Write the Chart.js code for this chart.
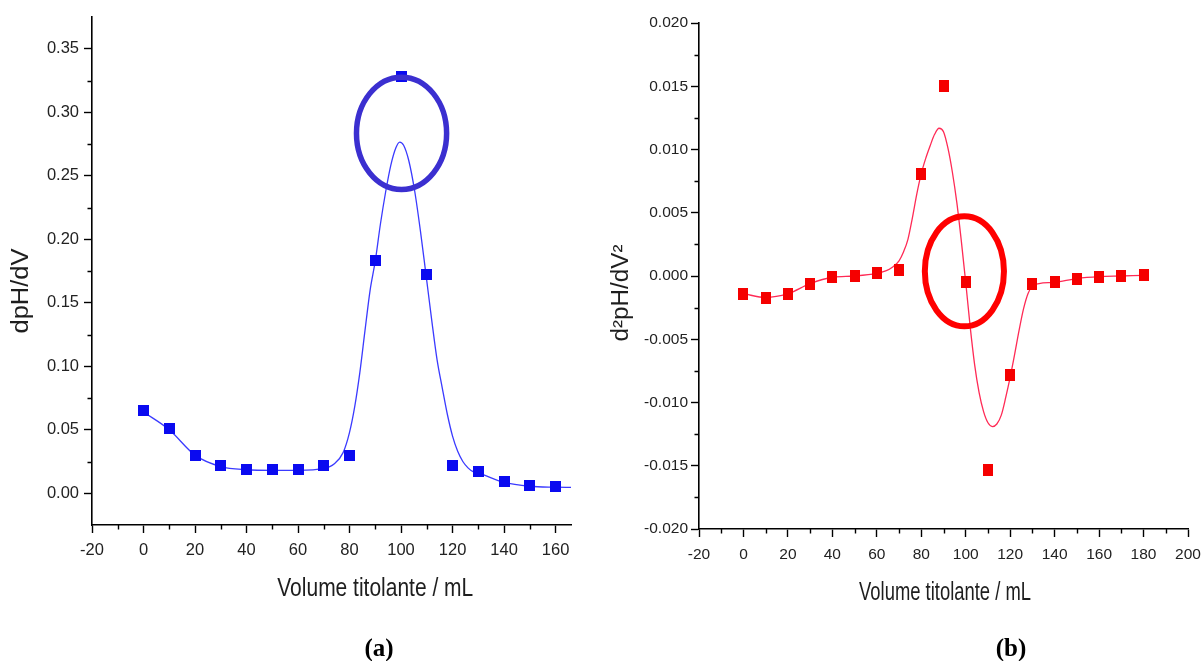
<!DOCTYPE html>
<html>
<head>
<meta charset="utf-8">
<script src="https://cdn.jsdelivr.net/npm/chart.js@4.4.1/dist/chart.umd.min.js"></script>
<style>
  body { margin: 0; background: #fff; width: 1203px; height: 661px; position: relative; overflow: hidden; }
  canvas { position: absolute; top: 0; }
  #chartA { left: 0; }
  #chartB { left: 600px; }
  .cap { position: absolute; transform: translate(-50%, -50%); font: bold 25px "Liberation Serif", "Times New Roman", serif; color: #000; }
</style>
</head>
<body>
<canvas id="chartA" width="600" height="661"></canvas>
<canvas id="chartB" width="603" height="661"></canvas>
<div class="cap" style="left:379px; top:648px">(a)</div>
<div class="cap" style="left:1011px; top:648px">(b)</div>
<script>
  // (a) primeira derivada
  const volA     = [0, 10, 20, 30, 40, 50, 60, 70, 80, 90, 100, 110, 120, 130, 140, 150, 160];
  const dpHdV    = [0.065, 0.051, 0.030, 0.022, 0.019, 0.019, 0.019, 0.022, 0.030, 0.183, 0.328, 0.172, 0.022, 0.017, 0.009, 0.006, 0.0055];
  const fitVolA  = [0, 10, 20, 30, 40, 50, 60, 70, 74, 77.5, 80, 82, 84, 86, 88, 90, 92, 94, 96, 98, 99.5, 101, 103, 105.3, 107.5, 109.7, 112, 114, 116, 118, 120, 122, 124, 126, 128, 130, 140, 150, 160, 166];
  const fitDpHdV = [0.064, 0.050, 0.030, 0.021, 0.0185, 0.018, 0.018, 0.0195, 0.023, 0.032, 0.048, 0.068, 0.095, 0.128, 0.160, 0.183, 0.212, 0.237, 0.258, 0.272, 0.2765, 0.274, 0.262, 0.238, 0.207, 0.172, 0.135, 0.105, 0.083, 0.062, 0.045, 0.033, 0.025, 0.020, 0.017, 0.016, 0.0085, 0.0055, 0.0048, 0.0046];
  const xTicksA  = [-20, 0, 20, 40, 60, 80, 100, 120, 140, 160];
  const yTicksA  = [0, 0.05, 0.10, 0.15, 0.20, 0.25, 0.30, 0.35];

  // (b) segunda derivada
  const volB     = [0, 10, 20, 30, 40, 50, 60, 70, 80, 90, 100, 110, 120, 130, 140, 150, 160, 170, 180];
  const d2pH     = [-0.0014, -0.0017, -0.0014, -0.0006, -0.0001, 0.0000, 0.0002, 0.0005, 0.0081, 0.0150, -0.0005, -0.0153, -0.0078, -0.0006, -0.0005, -0.0002, -0.00005, 0.0000, 0.00005];
  const fitVolB  = [0, 10, 20, 30, 40, 50, 60, 64, 67, 70, 72, 74, 76, 78, 80, 82, 84, 86, 88, 90, 92, 94, 96, 98, 100, 102, 104, 106, 108, 110, 112, 114, 116, 118, 120, 122, 124, 126, 128, 130, 133, 140, 150, 160, 170, 180];
  const fitD2pH  = [-0.0014, -0.0017, -0.0014, -0.0006, -0.0001, 0.0000, 0.0002, 0.0004, 0.0007, 0.0012, 0.0019, 0.0029, 0.0046, 0.0065, 0.0081, 0.0093, 0.0103, 0.0112, 0.01168, 0.0114, 0.0101, 0.0082, 0.0058, 0.0028, -0.0005, -0.0040, -0.0070, -0.0092, -0.0107, -0.0116, -0.0119, -0.0117, -0.0110, -0.0096, -0.0080, -0.0062, -0.0043, -0.0026, -0.0014, -0.0008, -0.0006, -0.0005, -0.0002, -0.00005, 0.0000, 0.00005];
  const xTicksB  = [-20, 0, 20, 40, 60, 80, 100, 120, 140, 160, 180, 200];
  const yTicksB  = [-0.020, -0.015, -0.010, -0.005, 0, 0.005, 0.010, 0.015, 0.020];

  const FONT = '"Liberation Sans", Arial, Helvetica, sans-serif';

  function marcador(w, h, cor) {
    const c = document.createElement('canvas');
    c.width = w; c.height = h;
    const g = c.getContext('2d');
    g.fillStyle = cor;
    g.fillRect(0, 0, w, h);
    return c;
  }

  function pares(xs, ys) { return xs.map((v, i) => ({x: v, y: ys[i]})); }

  function textoEsticado(ctx, txt, x, y, largura, rot) {
    ctx.save();
    ctx.translate(x, y);
    ctx.rotate(rot);
    ctx.scale(largura / ctx.measureText(txt).width, 1);
    ctx.fillText(txt, 0, 0);
    ctx.restore();
  }

  // circulo de destaque, tracinhos menores e titulos dos eixos
  const extras = {
    id: 'extras',
    afterDatasetsDraw(chart, args, o) {
      const {ctx, scales: {x, y}} = chart;
      const r = o.ring;
      const cx = x.getPixelForValue(r.x), cy = y.getPixelForValue(r.y);
      const rx = x.getPixelForValue(r.x + r.rx) - cx;
      const ry = cy - y.getPixelForValue(r.y + r.ry);
      ctx.save();
      ctx.strokeStyle = r.color;
      ctx.lineWidth = r.width;
      ctx.beginPath();
      ctx.ellipse(cx, cy, rx, ry, 0, 0, 2 * Math.PI);
      ctx.stroke();
      ctx.restore();
    },
    afterDraw(chart, args, o) {
      const {ctx, chartArea: a, scales: {x, y}} = chart;
      ctx.save();
      ctx.strokeStyle = '#000';
      ctx.lineWidth = 1.4;
      ctx.beginPath();
      for (let v = o.minorX[0]; v < x.max; v += o.minorX[1]) {
        const px = Math.round(x.getPixelForValue(v)) + 0.5;
        ctx.moveTo(px, a.bottom); ctx.lineTo(px, a.bottom + 4.5);
      }
      for (let v = o.minorY[0]; v < y.max - 1e-9; v += o.minorY[1]) {
        const py = Math.round(y.getPixelForValue(v)) + 0.5;
        ctx.moveTo(a.left, py); ctx.lineTo(a.left - 4.5, py);
      }
      ctx.stroke();

      ctx.fillStyle = '#1e1e1e';
      ctx.textAlign = 'center';
      ctx.textBaseline = 'middle';
      ctx.font = o.xTitle.size + 'px ' + FONT;
      textoEsticado(ctx, o.xTitle.text, x.getPixelForValue(o.xTitle.at), a.bottom + o.xTitle.dy, o.xTitle.width, 0);
      ctx.font = o.yTitle.size + 'px ' + FONT;
      textoEsticado(ctx, o.yTitle.text, o.yTitle.cx, o.yTitle.cy, o.yTitle.width, -Math.PI / 2);
      ctx.restore();
    }
  };

  function eixo(min, max, ticks, fmt, fontSize, padding, fit) {
    return {
      type: 'linear', min, max,
      border: {display: true, color: '#000', width: 1.6},
      grid: {drawOnChartArea: false, drawTicks: true, tickLength: 8, tickColor: '#000', tickWidth: 1.4},
      ticks: {color: '#222', padding, maxRotation: 0, autoSkip: false, font: {family: FONT, size: fontSize}, callback: fmt},
      afterBuildTicks: s => { s.ticks = ticks.map(v => ({value: v})); },
      afterFit: fit
    };
  }

  function montar(id, cfg) {
    return new Chart(document.getElementById(id), {
      type: 'scatter',
      data: {
        datasets: [
          {data: cfg.pontos, showLine: false, pointStyle: cfg.marca, pointRadius: 6, pointHoverRadius: 6},
          {data: cfg.curva, showLine: true, pointRadius: 0, borderColor: cfg.corLinha, borderWidth: 1.3, cubicInterpolationMode: 'monotone', fill: false}
        ]
      },
      options: {
        responsive: false,
        animation: false,
        events: [],
        layout: {padding: cfg.padding},
        plugins: {legend: {display: false}, tooltip: {enabled: false}, extras: cfg.extras},
        scales: {x: cfg.x, y: cfg.y}
      },
      plugins: [extras]
    });
  }

  montar('chartA', {
    pontos: pares(volA, dpHdV),
    curva: pares(fitVolA, fitDpHdV),
    marca: marcador(11, 11, '#0a0af0'),
    corLinha: '#3a3aff',
    padding: {left: 0, top: 17, right: 29, bottom: 0},
    x: eixo(-20, 166, xTicksA, v => v, 16.5, 8, s => { s.height = 136; }),
    y: eixo(-0.025, 0.375, yTicksA, v => v.toFixed(2), 16.5, 5, s => { s.width = 92; }),
    extras: {
      ring: {x: 100.2, y: 0.2834, rx: 17.5, ry: 0.0442, color: '#3b2fd0', width: 5.5},
      minorX: [-10, 20],
      minorY: [0.025, 0.05],
      xTitle: {text: 'Volume titolante / mL', at: 90, dy: 64, size: 25, width: 196},
      yTitle: {text: 'dpH/dV', cx: 22, cy: 291, size: 23, width: 85}
    }
  });

  montar('chartB', {
    pontos: pares(volB, d2pH),
    curva: pares(fitVolB, fitD2pH),
    marca: marcador(10, 12, '#f50000'),
    corLinha: '#ff2a55',
    padding: {left: 0, top: 23, right: 15, bottom: 0},
    x: eixo(-20, 200, xTicksB, v => v, 15.5, 8, s => { s.height = 132; s.paddingRight = 0; }),
    y: eixo(-0.020, 0.020, yTicksB, v => v.toFixed(3), 15.5, 3, s => { s.width = 99; }),
    extras: {
      ring: {x: 99.4, y: 0.00037, rx: 17.8, ry: 0.00435, color: '#ff0000', width: 6},
      minorX: [-10, 20],
      minorY: [-0.0175, 0.005],
      xTitle: {text: 'Volume titolante / mL', at: 90.7, dy: 64, size: 25, width: 172},
      yTitle: {text: 'd²pH/dV²', cx: 22, cy: 293, size: 23, width: 97}
    }
  });
</script>
</body>
</html>
